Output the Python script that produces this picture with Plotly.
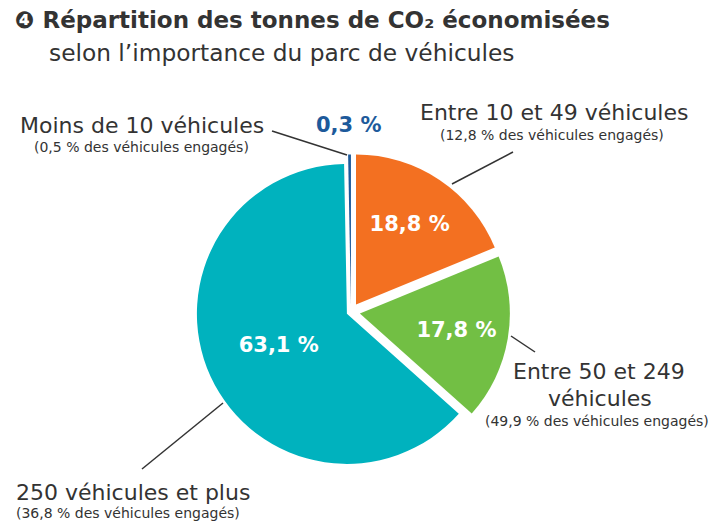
import plotly.graph_objects as go

W, H = 714, 523

# ---- data ----
categories = ["Entre 10 et 49 véhicules", "Entre 50 et 249 véhicules",
              "250 véhicules et plus", "Moins de 10 véhicules"]
co2_share = [18.8, 17.8, 63.1, 0.3]
vehicle_share = [12.8, 49.9, 36.8, 0.5]
colors = ["#F37021", "#72BF44", "#00B2BE", "#1D5A9B"]

fmt = lambda v: f"{v:.1f}".replace(".", ",") + " %"
slice_text = ["<b>" + fmt(v) + "</b>" for v in co2_share]
sub_text = ["(" + fmt(v) + " des véhicules engagés)" for v in vehicle_share]

def px(x, y):
    return x / W, 1 - y / H

FONT = "DejaVu Sans"
DARK = "#333333"
BLUE = colors[3]

fig = go.Figure()
fig.add_trace(go.Pie(
    values=co2_share,
    labels=categories,
    text=slice_text,
    textinfo="text",
    sort=False,
    direction="clockwise",
    rotation=0,
    pull=[0.06, 0.06, 0.03, 0.05],
    marker=dict(colors=colors, line=dict(width=0)),
    textposition=["inside", "inside", "inside", "none"],
    insidetextorientation="horizontal",
    textfont=dict(family=FONT, size=21, color="white"),
    hoverinfo="label+percent",
    showlegend=False,
    domain=dict(x=[0.2689, 0.7143], y=[0.0994, 0.7075]),
))

ann = []
def add_text(x, y, t, size, bold=False, xanchor="center", color=DARK):
    xx, yy = px(x, y)
    ann.append(dict(x=xx, y=yy, xref="paper", yref="paper", text=(f"<b>{t}</b>" if bold else t),
                    showarrow=False, xanchor=xanchor, yanchor="middle",
                    font=dict(family=FONT, size=size, color=color)))

add_text(13, 20, "❹ Répartition des tonnes de CO₂ économisées", 23, bold=True, xanchor="left")
add_text(47, 52, "selon l’importance du parc de véhicules", 23.3, xanchor="left")

add_text(349, 125, slice_text[3], 21, color=BLUE)

add_text(142, 126, categories[3], 22)
add_text(141, 147, sub_text[3], 14)
add_text(554, 113, categories[0], 22)
add_text(552, 135, sub_text[0], 14)
add_text(599, 371, "Entre 50 et 249", 22)
add_text(600, 398, "véhicules", 22)
add_text(597, 421, sub_text[1], 14)
add_text(14, 492, categories[2], 22, xanchor="left")
add_text(14, 513, sub_text[2], 14, xanchor="left")

shapes = []
for (x0, y0, x1, y1) in [(272, 131, 347, 155), (452, 184, 513, 152),
                         (511, 336, 535, 352), (223, 403, 142, 469)]:
    a, b = px(x0, y0)
    c, d = px(x1, y1)
    shapes.append(dict(type="line", xref="paper", yref="paper", x0=a, y0=b, x1=c, y1=d,
                       line=dict(color="#333333", width=1.5)))

fig.update_layout(
    width=W, height=H,
    margin=dict(l=0, r=0, t=0, b=0),
    paper_bgcolor="white", plot_bgcolor="white",
    annotations=ann, shapes=shapes,
    font=dict(family=FONT, color=DARK),
)
fig.write_html("out.html", config={"displayModeBar": False},
               post_script="document.body.style.margin='0';document.body.style.padding='0';")
